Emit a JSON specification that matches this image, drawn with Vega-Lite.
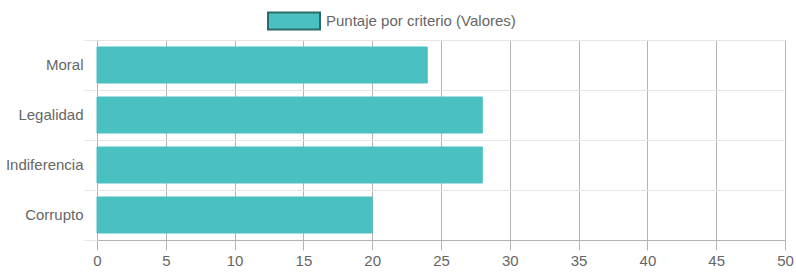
{
  "$schema": "https://vega.github.io/schema/vega-lite/v6.json",
  "width": 688,
  "height": 200,
  "autosize": {"type": "none"},
  "padding": {"left": 97, "top": 40, "right": 11, "bottom": 35},
  "background": "white",
  "config": {
    "view": {"stroke": null},
    "font": "Liberation Sans",
    "axis": {"labelFont": "Liberation Sans", "labelColor": "#666666", "labelFontSize": 15, "titleFontSize": 14}
  },
  "data": {
    "values": [
      {"criterio": "Moral", "valor": 24, "serie": "Puntaje por criterio (Valores)"},
      {"criterio": "Legalidad", "valor": 28, "serie": "Puntaje por criterio (Valores)"},
      {"criterio": "Indiferencia", "valor": 28, "serie": "Puntaje por criterio (Valores)"},
      {"criterio": "Corrupto", "valor": 20, "serie": "Puntaje por criterio (Valores)"}
    ]
  },
  "mark": {"type": "bar", "strokeWidth": 1, "stroke": "#4BC0C0", "height": {"band": 0.72}},
  "encoding": {
    "y": {
      "field": "criterio",
      "type": "nominal",
      "sort": null,
      "title": null,
      "scale": {"paddingInner": 0, "paddingOuter": 0},
      "axis": {
        "tickBand": "extent",
        "domain": false,
        "ticks": true,
        "tickSize": 13,
        "tickColor": "#e5e5e5",
        "grid": true,
        "gridColor": "#e5e5e5",
        "labelPadding": 1,
        "labelOffset": -1
      }
    },
    "x": {
      "field": "valor",
      "type": "quantitative",
      "title": null,
      "scale": {"domain": [0, 50], "nice": false},
      "axis": {
        "values": [0, 5, 10, 15, 20, 25, 30, 35, 40, 45, 50],
        "grid": true,
        "gridColor": "#b3b3b3",
        "domainColor": "#b3b3b3",
        "tickColor": "#b3b3b3",
        "tickSize": 10,
        "labelPadding": 3,
        "labelFlush": false
      }
    },
    "color": {
      "field": "serie",
      "type": "nominal",
      "scale": {"range": ["#4BC0C0"]},
      "legend": {
        "title": null,
        "orient": "none",
        "legendX": 170,
        "legendY": -46,
        "padding": 0,
        "symbolType": "M-1,-0.33H1V0.33H-1Z",
        "symbolSize": 2704,
        "symbolStrokeColor": "#2a6b6b",
        "symbolStrokeWidth": 2,
        "symbolFillColor": "#4BC0C0",
        "symbolOpacity": 1,
        "labelFont": "Liberation Sans",
        "labelFontSize": 15,
        "labelColor": "#666666",
        "labelOffset": 5,
        "labelLimit": 400
      }
    }
  }
}
